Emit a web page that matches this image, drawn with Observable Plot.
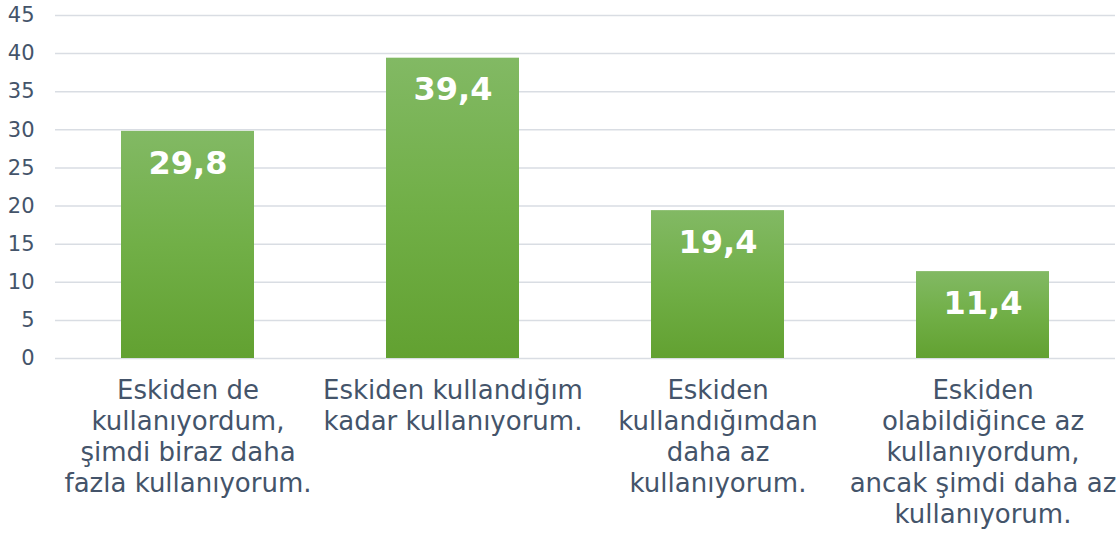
<!DOCTYPE html>
<html>
<head>
<meta charset="utf-8">
<script src="https://cdn.jsdelivr.net/npm/d3@7"></script>
<script src="https://cdn.jsdelivr.net/npm/@observablehq/plot@0.6"></script>
<style>
  html, body { margin: 0; padding: 0; background: #fff; }
  #chart svg { display: block; }
</style>
</head>
<body>
<div id="chart"></div>
<script>
const categories = [
  "Eskiden de\nkullanıyordum,\nşimdi biraz daha\nfazla kullanıyorum.",
  "Eskiden kullandığım\nkadar kullanıyorum.",
  "Eskiden\nkullandığımdan\ndaha az\nkullanıyorum.",
  "Eskiden\nolabildiğince az\nkullanıyordum,\nancak şimdi daha az\nkullanıyorum."
];
const values = [29.8, 39.4, 19.4, 11.4];
const valueLabels = ["29,8", "39,4", "19,4", "11,4"];
const yTicks = [0, 5, 10, 15, 20, 25, 30, 35, 40, 45];

const data = categories.map((c, i) => ({cat: c, value: values[i], label: valueLabels[i]}));

const textColor = "#44546a";

const chart = Plot.plot({
  width: 1116,
  height: 540,
  marginLeft: 55,
  marginRight: 1,
  marginTop: 15,
  marginBottom: 182,
  style: {fontFamily: "'DejaVu Sans', sans-serif", background: "#fff"},
  x: {domain: categories, paddingInner: 0.5, paddingOuter: 0.25, align: 0.5},
  y: {domain: [0, 45], ticks: yTicks},
  marks: [
    Plot.gridY(yTicks, {stroke: "#d9dde3", strokeOpacity: 1, strokeWidth: 1.5}),
    Plot.axisY(yTicks, {tickSize: 0, tickPadding: 21, fontSize: 21, fill: textColor, label: null}),
    Plot.axisX({tickSize: 0, tickPadding: 18, fontSize: 26, lineHeight: 1.2, fill: textColor, label: null}),
    Plot.barY(data, {x: "cat", y: "value", fill: "url(#barGrad)"}),
    Plot.text(data, {x: "cat", y: "value", text: "label", dy: 32, fill: "#fff", fontWeight: "bold", fontSize: 32})
  ]
});

const ns = "http://www.w3.org/2000/svg";
const defs = document.createElementNS(ns, "defs");
const grad = document.createElementNS(ns, "linearGradient");
grad.setAttribute("id", "barGrad");
grad.setAttribute("x1", "0"); grad.setAttribute("y1", "0");
grad.setAttribute("x2", "0"); grad.setAttribute("y2", "1");
[["0", "#82b964"], ["0.5", "#71af47"], ["1", "#62a131"]].forEach(([o, c]) => {
  const s = document.createElementNS(ns, "stop");
  s.setAttribute("offset", o);
  s.setAttribute("stop-color", c);
  grad.appendChild(s);
});
defs.appendChild(grad);
chart.insertBefore(defs, chart.firstChild);

document.getElementById("chart").appendChild(chart);
</script>
</body>
</html>
